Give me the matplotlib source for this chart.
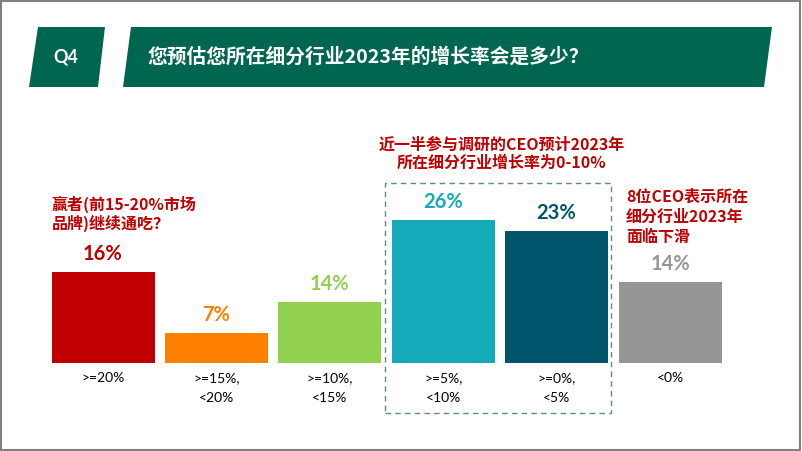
import matplotlib
matplotlib.use("Agg")
import matplotlib.pyplot as plt
from matplotlib.patches import Polygon, Rectangle

# ---- data ----
categories = [">=20%", ">=15%,\n<20%", ">=10%,\n<15%", ">=5%,\n<10%", ">=0%,\n<5%", "<0%"]
bar_heights = [16, 5.3, 10.7, 25.2, 23.2, 14.2]   # heights as drawn in the picture
value_labels = ["16%", "7%", "14%", "26%", "23%", "14%"]
bar_colors = ["#C00000", "#FF8000", "#92D050", "#14AAB9", "#00546C", "#969696"]
title = "您预估您所在细分行业2023年的增长率会是多少？"
q_label = "Q4"
note_left = "赢者(前15-20%市场\n品牌)继续通吃？"
note_mid = "近一半参与调研的CEO预计2023年\n所在细分行业增长率为0-10%"
note_right = "8位CEO表示所在\n细分行业2023年\n面临下滑"

W, H = 802, 451
fig = plt.figure(figsize=(W / 100, H / 100), dpi=100)
fig.patch.set_facecolor("white")

def P(x, y):
    return (x / W, 1 - y / H)

cjk = ["Noto Sans CJK SC", "DejaVu Sans"]
GREEN = "#00664F"
RED = "#C00000"

# header shapes
fig.patches.append(Polygon([P(38, 27), P(105, 27), P(98, 87), P(29, 87)], closed=True,
                           transform=fig.transFigure, facecolor=GREEN, edgecolor="none"))
fig.patches.append(Polygon([P(131, 27), P(772, 27), P(764, 87), P(123, 87)], closed=True,
                           transform=fig.transFigure, facecolor=GREEN, edgecolor="none"))
fig.text(*P(66, 57), q_label, color="white", fontsize=13, fontweight="bold",
         family=["Lato", "DejaVu Sans"], ha="center", va="center")
fig.text(*P(147, 57), title, color="white", fontsize=14.2, family=cjk, fontweight="bold",
         ha="left", va="center")

# border
fig.patches.append(Rectangle((0.001, 0.002), 0.997, 0.996, transform=fig.transFigure,
                             fill=False, edgecolor="#7F7F7F", linewidth=1.5))

# axes
px_per_unit = 113.4
left_px = 103 - 0.5 * px_per_unit
base_px = 363
y_scale = 91 / 16.0
ymax = 40
ax = fig.add_axes([left_px / W, (H - base_px) / H, 6 * px_per_unit / W, ymax * y_scale / H])
ax.set_xlim(-0.5, 5.5)
ax.set_ylim(0, ymax)
ax.axis("off")

xs = list(range(len(categories)))
ax.bar(xs, bar_heights, width=103 / px_per_unit, color=bar_colors, edgecolor="none")

for x, h, lab, c in zip(xs, bar_heights, value_labels, bar_colors):
    ax.annotate(lab, xy=(x, h), xytext=(0, 18), textcoords="offset pixels",
                ha="center", va="center", color=c, fontsize=14.5, fontweight="bold",
                family=["Lato", "DejaVu Sans"])

for x, cat in zip(xs, categories):
    for k, line in enumerate(cat.split("\n")):
        ax.annotate(line, xy=(x, 0), xytext=(0, -15 - 20 * k), textcoords="offset pixels",
                    ha="center", va="center", color="black", fontsize=10,
                    family=["Lato", "DejaVu Sans"], annotation_clip=False)

# dashed box
fig.patches.append(Rectangle(P(385, 413), 226 / W, 230 / H, transform=fig.transFigure,
                             fill=False, edgecolor="#5E8C8A", linewidth=1.0,
                             linestyle=(0, (4, 3))))

# notes
NFS = 11.5
fig.text(*P(52, 204), note_left.split("\n")[0], color=RED, fontsize=NFS, family=cjk,
         fontweight="bold", ha="left", va="center")
fig.text(*P(52, 223), note_left.split("\n")[1], color=RED, fontsize=NFS, family=cjk,
         fontweight="bold", ha="left", va="center")
for k, line in enumerate(note_mid.split("\n")):
    fig.text(*P(502, 145 + 18 * k), line, color=RED, fontsize=NFS, family=cjk,
             fontweight="bold", ha="center", va="center")
for k, line in enumerate(note_right.split("\n")):
    fig.text(*P(626, 197 + 20 * k), line, color=RED, fontsize=NFS, family=cjk,
             fontweight="bold", ha="left", va="center")

fig.savefig("out.png", dpi=100)
